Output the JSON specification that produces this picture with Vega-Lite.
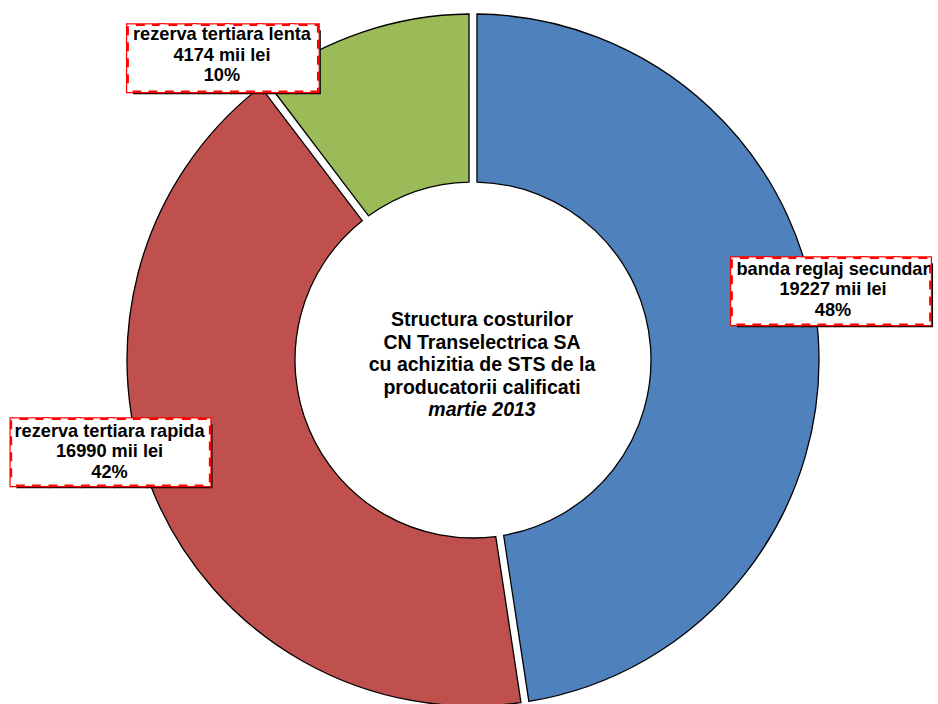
{
  "$schema": "https://vega.github.io/schema/vega-lite/v6.json",
  "width": 938,
  "height": 704,
  "autosize": {"type": "fit", "contains": "padding"},
  "padding": {"left": 9, "top": 16, "right": 1, "bottom": 0},
  "background": "white",
  "config": {"view": {"stroke": null}},
  "data": {
    "values": [
      {"cat": "banda reglaj secundar", "value": 19227, "pct": "48%", "k": 1},
      {"cat": "rezerva tertiara rapida", "value": 16990, "pct": "42%", "k": 2},
      {"cat": "rezerva tertiara lenta", "value": 4174, "pct": "10%", "k": 3}
    ]
  },
  "transform": [
    {"stack": "value", "groupby": [], "sort": [{"field": "k", "order": "ascending"}], "as": ["v0", "v1"]},
    {"calculate": "(datum.v0 + datum.v1) / 2", "as": "mid"},
    {"calculate": "datum.cat + '\\n' + datum.value + ' mii lei\\n' + datum.pct", "as": "label"}
  ],
  "layer": [
    {
      "mark": {"type": "arc", "innerRadius": 178, "outerRadius": 346, "padAngle": 0.0205, "stroke": "black", "strokeWidth": 1.3},
      "encoding": {
        "theta": {"field": "v0", "type": "quantitative", "scale": {"domain": [0, 40391]}},
        "theta2": {"field": "v1"},
        "color": {"field": "cat", "type": "nominal", "legend": null,
          "scale": {"domain": ["banda reglaj secundar", "rezerva tertiara rapida", "rezerva tertiara lenta"], "range": ["#4F81BD", "#C0504D", "#9BBB59"]}}
      }
    },
    {
      "data": {"values": [{"t": "Structura costurilor\nCN Transelectrica SA\ncu achizitia de STS de la\nproducatorii calificati"}]},
      "mark": {"type": "text", "font": "Liberation Sans", "fontWeight": "bold", "fontSize": 19.5, "lineHeight": 22.5, "lineBreak": "\n", "align": "center", "baseline": "middle", "dx": 9, "dy": -40, "color": "black"},
      "encoding": {"text": {"field": "t"}}
    },
    {
      "data": {"values": [{"t": "martie 2013"}]},
      "mark": {"type": "text", "font": "Liberation Sans", "fontWeight": "bold", "fontStyle": "italic", "fontSize": 19.5, "align": "center", "baseline": "middle", "dx": 9, "dy": 50, "color": "black"},
      "encoding": {"text": {"field": "t"}}
    },
    {
      "transform": [{"filter": "datum.k == 1"}],
      "encoding": {"theta": {"field": "mid", "type": "quantitative"}},
      "layer": [
        {"mark": {"type": "text", "radius": 345, "dx": 18, "dy": -36.5, "font": "DejaVu Sans Mono", "fontSize": 54, "align": "center", "baseline": "middle", "fill": "black"}, "encoding": {"text": {"value": "██████"}}},
        {"mark": {"type": "text", "radius": 345, "dx": 14, "dy": -40.5, "font": "DejaVu Sans Mono", "fontSize": 54, "align": "center", "baseline": "middle", "fill": "#FF0000", "stroke": "#FF0000", "strokeWidth": 6}, "encoding": {"text": {"value": "██████"}}},
        {"mark": {"type": "text", "radius": 345, "dx": 14, "dy": -40.5, "font": "DejaVu Sans Mono", "fontSize": 54, "align": "center", "baseline": "middle", "fill": "white", "stroke": "white", "strokeWidth": 3.5, "strokeDash": [7, 9]}, "encoding": {"text": {"value": "██████"}}},
        {"mark": {"type": "text", "radius": 345, "dx": 14, "dy": -40.5, "font": "DejaVu Sans Mono", "fontSize": 54, "align": "center", "baseline": "middle", "fill": "white"}, "encoding": {"text": {"value": "██████"}}},
        {"mark": {"type": "text", "radius": 345, "dx": 16, "dy": -64.5, "font": "Liberation Sans", "fontWeight": "bold", "fontSize": 18.2, "lineHeight": 20.5, "lineBreak": "\n", "align": "center", "baseline": "middle", "fill": "black"}, "encoding": {"text": {"field": "label"}}}
      ]
    },
    {
      "transform": [{"filter": "datum.k == 2"}],
      "encoding": {"theta": {"field": "mid", "type": "quantitative"}},
      "layer": [
        {"mark": {"type": "text", "radius": 345, "dx": -40.7, "dy": -35, "font": "DejaVu Sans Mono", "fontSize": 54, "align": "center", "baseline": "middle", "fill": "black"}, "encoding": {"text": {"value": "██████"}}},
        {"mark": {"type": "text", "radius": 345, "dx": -44.7, "dy": -39, "font": "DejaVu Sans Mono", "fontSize": 54, "align": "center", "baseline": "middle", "fill": "#FF0000", "stroke": "#FF0000", "strokeWidth": 6}, "encoding": {"text": {"value": "██████"}}},
        {"mark": {"type": "text", "radius": 345, "dx": -44.7, "dy": -39, "font": "DejaVu Sans Mono", "fontSize": 54, "align": "center", "baseline": "middle", "fill": "white", "stroke": "white", "strokeWidth": 3.5, "strokeDash": [7, 9]}, "encoding": {"text": {"value": "██████"}}},
        {"mark": {"type": "text", "radius": 345, "dx": -44.7, "dy": -39, "font": "DejaVu Sans Mono", "fontSize": 54, "align": "center", "baseline": "middle", "fill": "white"}, "encoding": {"text": {"value": "██████"}}},
        {"mark": {"type": "text", "radius": 345, "dx": -45.7, "dy": -62.4, "font": "Liberation Sans", "fontWeight": "bold", "fontSize": 18.2, "lineHeight": 20.5, "lineBreak": "\n", "align": "center", "baseline": "middle", "fill": "black"}, "encoding": {"text": {"field": "label"}}}
      ]
    },
    {
      "transform": [{"filter": "datum.k == 3"}],
      "encoding": {"theta": {"field": "mid", "type": "quantitative"}},
      "layer": [
        {"mark": {"type": "text", "radius": 345, "dx": -132, "dy": 31.5, "font": "DejaVu Sans Mono", "fontSize": 54, "align": "center", "baseline": "middle", "fill": "black"}, "encoding": {"text": {"value": "█████▊"}}},
        {"mark": {"type": "text", "radius": 345, "dx": -136, "dy": 27.5, "font": "DejaVu Sans Mono", "fontSize": 54, "align": "center", "baseline": "middle", "fill": "#FF0000", "stroke": "#FF0000", "strokeWidth": 6}, "encoding": {"text": {"value": "█████▊"}}},
        {"mark": {"type": "text", "radius": 345, "dx": -136, "dy": 27.5, "font": "DejaVu Sans Mono", "fontSize": 54, "align": "center", "baseline": "middle", "fill": "white", "stroke": "white", "strokeWidth": 3.5, "strokeDash": [7, 9]}, "encoding": {"text": {"value": "█████▊"}}},
        {"mark": {"type": "text", "radius": 345, "dx": -136, "dy": 27.5, "font": "DejaVu Sans Mono", "fontSize": 54, "align": "center", "baseline": "middle", "fill": "white"}, "encoding": {"text": {"value": "█████▊"}}},
        {"mark": {"type": "text", "radius": 345, "dx": -141, "dy": 2, "font": "Liberation Sans", "fontWeight": "bold", "fontSize": 18.2, "lineHeight": 20.5, "lineBreak": "\n", "align": "center", "baseline": "middle", "fill": "black"}, "encoding": {"text": {"field": "label"}}}
      ]
    }
  ]
}
